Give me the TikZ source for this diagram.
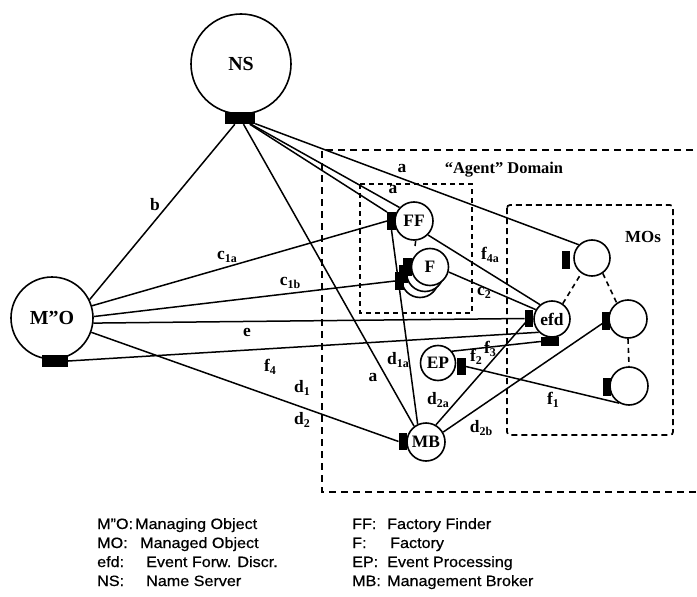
\documentclass[tikz,border=0pt]{standalone}
\usepackage{fontspec}
\setmainfont{Liberation Serif}
\newfontfamily\legfont[FakeStretch=1.08,FakeBold=0.6]{Liberation Sans}
\newcommand{\sbx}[2]{#1\raisebox{-0.35ex}{\fontsize{12}{12}\selectfont #2}}
\begin{document}
\begin{tikzpicture}[x=1bp,y=-1bp,
  bignode/.style={circle,draw,fill=white,line width=1.6bp,inner sep=0pt,font=\fontsize{20}{20}\selectfont\bfseries},
  smallnode/.style={circle,draw,fill=white,line width=1.6bp,inner sep=0pt,font=\fontsize{17.5}{17.5}\selectfont\bfseries},
  portbox/.style={rectangle,fill=black,draw=none,inner sep=0pt},
  vport/.style={portbox,minimum width=8.5bp,minimum height=17.5bp},
  hport/.style={portbox,minimum width=18bp,minimum height=9bp},
  conn/.style={line width=1.5bp},
  mdash/.style={line width=1.6bp,dash pattern=on 5bp off 4bp},
  elab/.style={font=\fontsize{17.5}{17.5}\selectfont\bfseries,inner sep=0pt},
  legtext/.style={font=\legfont\fontsize{15}{15}\selectfont,anchor=base west,inner sep=0pt}
]
\useasboundingbox (0,0) rectangle (697,597);

% domain boxes
\draw[line width=1.8bp,dash pattern=on 7bp off 5bp] (705,150) -- (322,150) -- (322,492) -- (705,492);
\draw[line width=1.6bp,dash pattern=on 5bp off 4bp] (360,184) rectangle (472,313);
\draw[line width=1.7bp,dash pattern=on 6bp off 4bp,rounded corners=3bp] (507,205) rectangle (673,435);

% objects
\node[bignode,minimum size=100bp] (NS) at (241,64) {NS};
\node[bignode,minimum size=82bp] (MO) at (52,318) {M”O};
\node[smallnode,minimum size=38bp] (FF) at (414,221) {FF};
\node[smallnode,minimum size=37bp] (F3) at (420,279) {};
\node[smallnode,minimum size=37bp] (F2) at (425,273) {};
\node[smallnode,minimum size=37bp] (F) at (430,267) {F};
\node[smallnode,minimum size=36bp] (efd) at (552,319) {efd};
\node[smallnode,minimum size=35bp] (EP) at (438,363) {EP};
\node[smallnode,minimum size=38bp] (MB) at (426,442) {MB};
\node[smallnode,minimum size=36bp] (MO1) at (592,258) {};
\node[smallnode,minimum size=38bp] (MO2) at (628,319) {};
\node[smallnode,minimum size=38bp] (MO3) at (629,386) {};

% ports
\node[portbox,minimum width=30bp,minimum height=12bp] (NSp) at (240,118) {};
\node[portbox,minimum width=26bp,minimum height=12bp] (MOp) at (55,361) {};
\node[vport] (FFp) at (391.5,221) {};
\node[vport] (Fp1) at (407.5,267) {};
\node[vport] (Fp2) at (403.5,274) {};
\node[vport] (Fp3) at (399.5,281) {};
\node[vport] (efdp) at (529,318.5) {};
\node[hport] (efdq) at (550,341.5) {};
\node[vport] (EPp) at (461.5,366.5) {};
\node[vport] (MBp) at (403,441.5) {};
\node[vport] (MO1p) at (566,260) {};
\node[vport] (MO2p) at (606,321) {};
\node[vport] (MO3p) at (607,387) {};

% connectors from NS
\draw[conn] (NSp) -- (MO.26);
\draw[conn] (NSp) -- (MO1.135);
\draw[conn] (NSp) -- (FF.137);
\draw[conn] (NSp) -- (FFp.north west);
\draw[conn] (NSp) -- (MB.127);
% connectors from M"O
\draw[conn] (MO.17) -- (FFp.west);
\draw[conn] (MO.2) -- (Fp3.west);
\draw[conn] (MO.-7) -- (efdp.west);
\draw[conn] (MOp.east) -- (efd.225);
\draw[conn] (MO.-20) -- (MBp.west);
% others
\draw[conn] (MB.115) -- (FFp.south);
\draw[conn] (FF.-45) -- (efd.130);
\draw[conn] (F.-15) -- (efd.150);
\draw[conn] (MB.60) -- (efdp.center);
\draw[conn] (MB.30) -- (MO2p.center);
\draw[conn] (EP.40) -- (efdq.west);
\draw[conn] (EPp.east) -- (MO3.240);
\coordinate (tk) at (415,246);
\draw[conn] (FF.-85) -- (tk);
% MO relations
\draw[mdash] (efd.55) -- (MO1.235);
\draw[mdash] (MO1.-55) -- (MO2.125);
\draw[mdash] (MO2.south) -- (MO3.north);

% connector labels
\node[elab] at (155,205) {b};
\node[elab] at (227,257) {\sbx{c}{1a}};
\node[elab] at (290,283) {\sbx{c}{1b}};
\node[elab] at (247,332) {e};
\node[elab] at (270,367) {\sbx{f}{4}};
\node[elab] at (302,388) {\sbx{d}{1}};
\node[elab] at (302,420) {\sbx{d}{2}};
\node[elab] at (402,168) {a};
\node[elab] at (393,189) {a};
\node[elab] at (373,377) {a};
\node[elab] at (490,255) {\sbx{f}{4a}};
\node[elab] at (484,293) {\sbx{c}{2}};
\node[elab] at (398,360) {\sbx{d}{1a}};
\node[elab] at (476,357) {\sbx{f}{2}};
\node[elab] at (490,349) {\sbx{f}{3}};
\node[elab] at (438,400) {\sbx{d}{2a}};
\node[elab] at (481,428) {\sbx{d}{2b}};
\node[elab] at (553,400) {\sbx{f}{1}};
\node[elab,font=\fontsize{16.5}{16.5}\selectfont\bfseries] at (504,170) {“Agent” Domain};
\node[elab,font=\fontsize{17}{17}\selectfont\bfseries] at (643,237) {MOs};

% legend
\node[legtext] at (97,529) {M”O:};
\node[legtext] at (135,529) {Managing Object};
\node[legtext] at (97,548) {MO:};
\node[legtext] at (140,548) {Managed Object};
\node[legtext] at (97,567) {efd:};
\node[legtext] at (146,567) {Event Forw. Discr.};
\node[legtext] at (97,586) {NS:};
\node[legtext] at (146,586) {Name Server};
\node[legtext] at (352,529) {FF:};
\node[legtext] at (387,529) {Factory Finder};
\node[legtext] at (352,548) {F:};
\node[legtext] at (390,548) {Factory};
\node[legtext] at (352,567) {EP:};
\node[legtext] at (387,567) {Event Processing};
\node[legtext] at (352,586) {MB:};
\node[legtext] at (387,586) {Management Broker};
\end{tikzpicture}
\end{document}
